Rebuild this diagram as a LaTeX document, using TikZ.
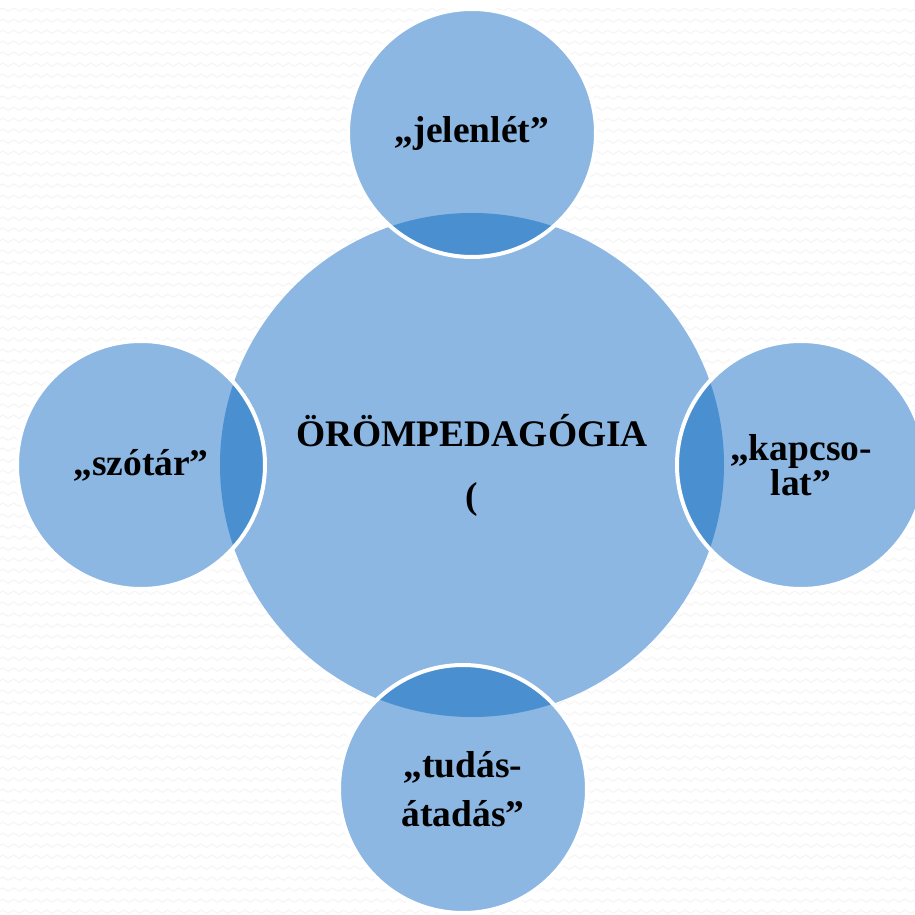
\documentclass[tikz,border=0pt]{standalone}
\usepackage{fontspec}
\setmainfont{Liberation Serif}
\usetikzlibrary{backgrounds,decorations.pathmorphing}
\definecolor{lightblue}{RGB}{139,183,226}
\definecolor{darkblue}{RGB}{74,144,208}
\tikzset{
  main/.style={circle, minimum size=15.12cm, inner sep=0pt, align=center,
      font=\fontsize{32}{53}\selectfont\bfseries},
  sat/.style={circle, draw=white, line width=0.12cm, minimum size=7.44cm,
      inner sep=0pt, align=center, font=\fontsize{32}{42}\selectfont\bfseries}
}

\begin{document}
\begin{tikzpicture}[node distance=9.96cm]
    \useasboundingbox (-14.16,-13.5) rectangle (13.26,13.95);
    \node[main](orom){ÖRÖMPEDAGÓGIA\\(};
    \node[sat](jelen)[above of=orom]{„jelenlét”};
    \node[sat](szotar)[left of=orom, node distance=9.93cm]{„szótár”};
    \node[sat](kapcs)[right of=orom, node distance=9.87cm,
        font=\fontsize{32}{29}\selectfont\bfseries]{„kapcso-\\lat”};
    \node[sat](tudas)[below of=orom, node distance=9.72cm, xshift=-0.27cm]{„tudás-\\átadás”};

    \begin{pgfonlayer}{background}
    \foreach \y in {-13.4,-13.07,...,13.9}
      \draw[gray!7, line width=0.04cm, decorate,
          decoration={zigzag, segment length=0.33cm, amplitude=0.05cm}]
          (-14.16,\y) -- (13.26,\y);
    \fill[lightblue] (orom.center) circle (7.56cm);
    \foreach \n in {jelen,szotar,kapcs,tudas}{
      \fill[lightblue] (\n.center) circle (3.72cm);
      \begin{scope}
        \clip (orom.center) circle (7.56cm);
        \fill[darkblue] (\n.center) circle (3.72cm);
      \end{scope}
    }
    \end{pgfonlayer}
\end{tikzpicture}
\end{document}
